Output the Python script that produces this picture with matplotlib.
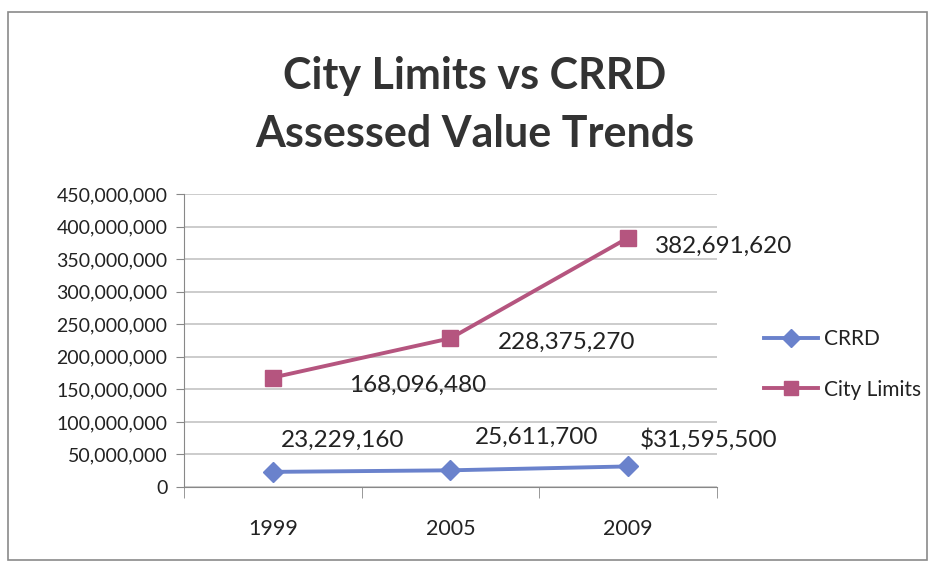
import matplotlib.pyplot as plt
from matplotlib.patches import Rectangle
from matplotlib.ticker import FuncFormatter, MultipleLocator

years = ['1999', '2005', '2009']
crrd = [23229160, 25611700, 31595500]
city = [168096480, 228375270, 382691620]
crrd_labels = ['23,229,160', '25,611,700', '$31,595,500']
city_labels = ['168,096,480', '228,375,270', '382,691,620']

plt.rcParams['font.family'] = ['Lato', 'DejaVu Sans']

blue = '#6a82cc'
pink = '#b5557f'
grid = '#c4c4c4'
txt = '#222222'

fig = plt.figure(figsize=(9.35, 5.67), dpi=100)
fig.patches.append(Rectangle((0.009, 0.013), 0.982, 0.965, transform=fig.transFigure,
                             fill=False, edgecolor='#8a8a8a', linewidth=1.2))

ax = fig.add_axes([0.1968, 0.1411, 0.570, 0.5168])
x = range(len(years))
ax.plot(x, crrd, color=blue, lw=2.8, marker='D', ms=10, label='CRRD', zorder=3)
ax.plot(x, city, color=pink, lw=2.8, marker='s', ms=11, label='City Limits', zorder=3)

# label offsets in pixels, as placed in the original
crrd_off = [(8, 32), (24, 33), (12, 27)]
city_off = [(76, -8), (47, -4), (27, -9)]
for i in x:
    ax.annotate(crrd_labels[i], (i, crrd[i]), xytext=crrd_off[i], textcoords='offset pixels',
                fontsize=17.5, color=txt, va='center', ha='left')
    ax.annotate(city_labels[i], (i, city[i]), xytext=city_off[i], textcoords='offset pixels',
                fontsize=17.5, color=txt, va='center', ha='left')

ax.set_xlim(-0.5, 2.5)
ax.set_ylim(0, 450000000)
ax.yaxis.set_major_locator(MultipleLocator(50000000))
ax.yaxis.set_major_formatter(FuncFormatter(lambda v, p: f'{v:,.0f}'))
ax.set_xticks(list(x))
ax.set_xticklabels(years)
ax.set_xticks([-0.5, 0.5, 1.5, 2.5], minor=True)
ax.tick_params(axis='x', which='major', length=0, pad=23, labelsize=15.5, labelcolor=txt)
ax.tick_params(axis='x', which='minor', length=8, color='#888888')
ax.tick_params(axis='y', length=6, color='#888888', labelsize=14, labelcolor=txt, pad=6)

ax.grid(axis='y', color=grid, lw=1.2)
ax.set_axisbelow(True)
for s in ['top', 'right']:
    ax.spines[s].set_visible(False)
ax.spines['left'].set_color('#888888')
ax.spines['bottom'].set_color('#888888')

fig.text(0.508, 0.866, 'City Limits vs CRRD', ha='center', va='center',
         fontsize=31, fontweight='bold', color='#333333')
fig.text(0.508, 0.763, 'Assessed Value Trends', ha='center', va='center',
         fontsize=31, fontweight='bold', color='#333333')

fig.legend(loc='center left', bbox_to_anchor=(0.797, 0.357), frameon=False,
           fontsize=15, labelcolor=txt, handlelength=2.6, handletextpad=0.3,
           labelspacing=1.45, markerscale=0.9)

fig.savefig('out.png', dpi=100)
